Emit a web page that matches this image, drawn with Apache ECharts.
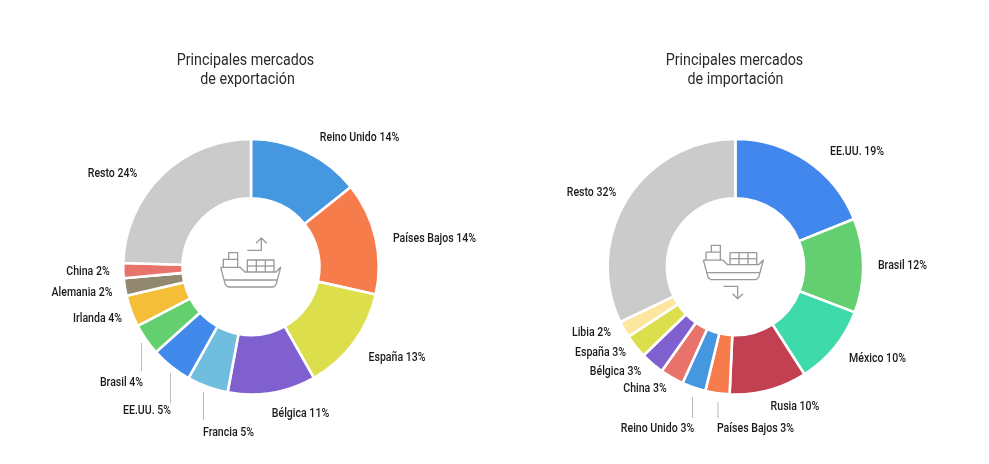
<!DOCTYPE html>
<html><head><meta charset="utf-8">
<style>html,body{margin:0;padding:0;background:#fff}#c{width:989px;height:464px}</style>
<script src="https://cdn.jsdelivr.net/npm/echarts@6/dist/echarts.min.js"></script>
</head><body><div id="c"></div>
<script>
const expNames=['Reino Unido','Países Bajos','España','Bélgica','Francia','EE.UU.','Brasil','Irlanda','Alemania','China','Resto'];
const expShown=[14,14,13,11,5,5,4,4,2,2,24];
const expValues=[14.25,14.2,13.3,11.1,5.2,5.2,4.0,4.0,2.2,1.9,24.5];
const expColors=['#4597DF','#F67C4B','#DCDE4C','#8060CF','#70BEDF','#418AEC','#64CF6F','#F4BE38','#928870','#E8736A','#CBCBCB'];
const impNames=['EE.UU.','Brasil','México','Rusia','Países Bajos','Reino Unido','China','Bélgica','España','Libia','Resto'];
const impShown=[19,12,10,10,3,3,3,3,3,2,32];
const impValues=[18.9,11.9,10.1,9.8,3.05,3.0,3.0,3.0,3.0,2.1,32.1];
const impColors=['#4187EE','#64CF70','#3FDAAA','#C33F52','#F67C4B','#4597DF','#E8736A','#8060CF','#DCDE4C','#FCE6A0','#CBCBCB'];
const expTitle=['Principales mercados','de exportación'];
const impTitle=['Principales mercados','de importación'];
const expLabelPos=[[359.5,138],[434.5,239],[397,358],[300.5,414],[228.5,433],[147,411],[121.5,383],[97.5,319],[82,293],[88,272],[112.5,174]];
const impLabelPos=[[857,152],[902.5,266],[877.5,359],[795,407],[755.5,429],[657.5,429],[645,389],[615.5,372],[600.5,353],[591.5,333],[591.5,193]];
const FONT='Roboto';
const GREY='#999';
function pie(names,values,colors,cx){
  return {type:'pie',center:[cx,266.7],radius:[68.5,127.8],startAngle:90,clockwise:true,animation:false,silent:true,
    avoidLabelOverlap:false,
    itemStyle:{borderColor:'#fff',borderWidth:2.6},
    label:{show:false},labelLine:{show:false},
    data:names.map((n,i)=>({name:n,value:values[i],itemStyle:{color:colors[i]}}))};
}
function txt(text,x,y,size,weight,color,sx){
  return {type:'text',x:x,y:y,scaleX:sx,silent:true,
    style:{text:text,fontFamily:FONT,fontSize:size,fontWeight:weight,fill:color,align:'center',verticalAlign:'middle'}};
}
function labels(names,shown,pos){
  return names.map((n,i)=>txt(n+' '+shown[i]+'%',pos[i][0],pos[i][1],12.5,500,'#1a1a1a',0.845));
}
function line(x,y1,y2){return {type:'line',shape:{x1:x,y1:y1,x2:x,y2:y2},style:{stroke:'#bbb',lineWidth:1},silent:true};}
function poly(points){return {type:'polyline',shape:{points:points},style:{stroke:GREY,lineWidth:1.3,fill:null,lineJoin:'round'},silent:true};}
function z(ox,oy,pts){return pts.map(p=>[ox+p[0]/3,oy+p[1]/3]);}
function ship(ox,oy){
  return [
    [[92,172],[150,172],[165,186],[258,186],[272,172],[258,224],[250,231],[115,231],[106,224],[92,172]],
    [[103,210],[262,210]],
    [[172,186],[172,150],[252,150],[252,186]],
    [[172,168],[252,168]],[[199,150],[199,186]],[[226,150],[226,186]],
    [[100,172],[100,148],[143,148],[143,172]],
    [[116,148],[116,128],[143,128],[143,148]]
  ].map(p=>poly(z(ox,oy,p)));
}
const upArrow=[[[172,121],[214,121],[214,85]],[[198,100],[214,84],[230,100]]].map(p=>poly(z(190,210,p)));
const downArrow=[[[130,229],[173,229],[173,266]],[[158,251],[173,266],[189,251]]].map(p=>poly(z(680,210,p)));
const chart=echarts.init(document.getElementById('c'),null,{renderer:'canvas'});
chart.setOption({
  animation:false,backgroundColor:'#fff',
  series:[pie(expNames,expValues,expColors,251),pie(impNames,impValues,impColors,735.4)],
  graphic:[
    txt(expTitle[0],245.5,61,16,400,'#2a2a2a',0.892),txt(expTitle[1],247.5,80,16,400,'#2a2a2a',0.892),
    txt(impTitle[0],734.5,61,16,400,'#2a2a2a',0.892),txt(impTitle[1],735.5,80,16,400,'#2a2a2a',0.892),
    ...labels(expNames,expShown,expLabelPos),...labels(impNames,impShown,impLabelPos),
    line(141.5,343,371),line(170.5,373,403),line(203.5,392,420),line(692.5,397,418),line(718,402,418),
    ...ship(190,210),...upArrow,...ship(672.7,202.7),...downArrow
  ]
});
</script></body></html>
